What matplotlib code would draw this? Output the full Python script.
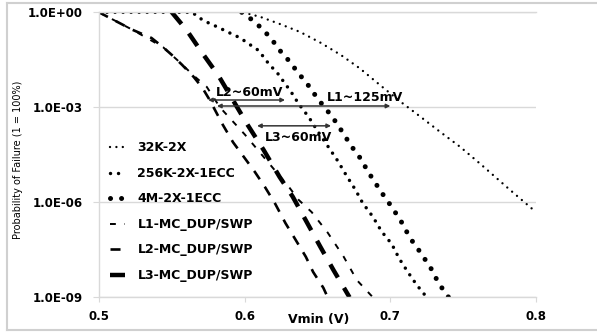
import matplotlib
matplotlib.use('Agg')
import matplotlib.pyplot as plt
from matplotlib.lines import Line2D
from matplotlib.ticker import FixedLocator, FuncFormatter, NullLocator

# values (Vmin in V, probability of failure)
v_32k = [0.599, 0.611, 0.624, 0.638, 0.652, 0.666, 0.679, 0.693, 0.707, 0.721,
         0.734, 0.748, 0.762, 0.782, 0.800]
p_32k = [1.0, 0.71, 0.43, 0.24, 0.11, 4.5e-2, 1.7e-2, 5.0e-3, 1.5e-3, 4.9e-4,
         1.7e-4, 5.6e-5, 1.6e-5, 2.5e-6, 4.9e-7]

v_256k = [0.500, 0.564, 0.569, 0.574, 0.581, 0.590, 0.597, 0.602, 0.609, 0.613,
          0.617, 0.622, 0.626, 0.632, 0.637, 0.644, 0.650, 0.657, 0.664, 0.670,
          0.676, 0.681, 0.688, 0.694, 0.701, 0.706, 0.712, 0.718, 0.725]
p_256k = [1.0, 1.0, 0.66, 0.49, 0.35, 0.22, 0.155, 0.107, 6.5e-2, 3.9e-2,
          2.2e-2, 1.3e-2, 7.2e-3, 3.0e-3, 1.3e-3, 4.9e-4, 1.8e-4, 6.0e-5, 2.0e-5, 6.8e-6,
          2.5e-6, 9.5e-7, 3.5e-7, 1.2e-7, 4.8e-8, 1.7e-8, 6.3e-9, 2.5e-9, 1.0e-9]

v_4m = [0.598, 0.606, 0.612, 0.617, 0.622, 0.626, 0.632, 0.636, 0.641, 0.645,
        0.650, 0.659, 0.664, 0.668, 0.672, 0.676, 0.681, 0.684, 0.688, 0.692,
        0.696, 0.701, 0.705, 0.709, 0.712, 0.716, 0.721, 0.725, 0.729, 0.732,
        0.736, 0.740]
p_4m = [1.0, 0.54, 0.30, 0.17, 8.7e-2, 4.8e-2, 2.5e-2, 1.3e-2, 7.2e-3, 4.1e-3,
        1.9e-3, 5.8e-4, 2.8e-4, 1.4e-4, 7.4e-5, 3.9e-5, 2.0e-5, 1.0e-5, 5.5e-6, 2.8e-6,
        1.5e-6, 7.1e-7, 3.7e-7, 1.9e-7, 1.0e-7, 5.1e-8, 2.5e-8, 1.3e-8, 6.8e-9, 3.5e-9,
        1.8e-9, 1.0e-9]

v_l1 = [0.500, 0.523, 0.544, 0.556, 0.565, 0.574, 0.583, 0.600, 0.631, 0.637,
        0.646, 0.657, 0.668, 0.677, 0.688]
p_l1 = [1.0, 0.28, 7.9e-2, 2.5e-2, 1.0e-2, 4.4e-3, 1.0e-3, 1.4e-4, 2.8e-6, 1.2e-6,
        4.9e-7, 1.1e-7, 1.9e-8, 3.5e-9, 1.0e-9]

v_l2 = [0.500, 0.523, 0.536, 0.544, 0.550, 0.557, 0.565, 0.571, 0.576, 0.585,
        0.592, 0.600, 0.607, 0.614, 0.621, 0.628, 0.635, 0.642, 0.647, 0.654, 0.657]
p_l2 = [1.0, 0.28, 0.155, 7.9e-2, 4.5e-2, 2.2e-2, 9.1e-3, 4.1e-3, 1.7e-3, 2.8e-4,
        7.9e-5, 2.5e-5, 9.1e-6, 3.0e-6, 8.9e-7, 2.2e-7, 6.5e-8, 1.9e-8, 6.3e-9, 2.0e-9, 1.0e-9]

v_l3 = [0.550, 0.560, 0.571, 0.582, 0.602, 0.613, 0.624, 0.633, 0.643, 0.652,
        0.661, 0.672]
p_l3 = [1.0, 0.28, 5.1e-2, 1.0e-2, 2.8e-4, 4.5e-5, 6.3e-6, 1.5e-6, 2.2e-7, 3.9e-8,
        7.2e-9, 1.0e-9]

labels = ['32K-2X', '256K-2X-1ECC', '4M-2X-1ECC',
          'L1-MC_DUP/SWP', 'L2-MC_DUP/SWP', 'L3-MC_DUP/SWP']
y_ticks = [1e0, 1e-3, 1e-6, 1e-9]
x_ticks = [0.5, 0.6, 0.7, 0.8]

grey = '#d9d9d9'

fig = plt.figure(figsize=(5.97, 3.33), dpi=100)
ax = fig.add_axes([99 / 597, 1 - 297.3 / 333, 437 / 597, 285 / 333])

series = [
    (v_32k, p_32k, dict(lw=1.7, linestyle=(0, (0.01, 2.7)), dash_capstyle='round')),
    (v_256k, p_256k, dict(lw=2.5, linestyle=(0, (0.01, 2.3)), dash_capstyle='round')),
    (v_4m, p_4m, dict(lw=3.6, linestyle=(0, (0.01, 2.2)), dash_capstyle='round')),
    (v_l1, p_l1, dict(lw=1.4, linestyle=(0, (3, 4.5)), dash_capstyle='butt')),
    (v_l2, p_l2, dict(lw=1.9, linestyle=(0, (3.8, 3.4)), dash_capstyle='butt')),
    (v_l3, p_l3, dict(lw=3.2, linestyle=(0, (3.4, 2.7)), dash_capstyle='butt')),
]
for (v, p, style), lab in zip(series, labels):
    ax.plot(v, p, color='black', label=lab, **style)

ax.set_yscale('log')
ax.set_xlim(0.5, 0.8)
ax.set_ylim(1e-9, 1e0)
ax.yaxis.set_major_locator(FixedLocator(y_ticks))
ax.yaxis.set_minor_locator(NullLocator())
ax.yaxis.set_major_formatter(FuncFormatter(lambda v, pos: f'{v:.1E}'))
ax.xaxis.set_major_locator(FixedLocator(x_ticks))
ax.xaxis.set_major_formatter(FuncFormatter(lambda v, pos: f'{v:.1f}'))
ax.grid(axis='y', color=grey, lw=1)
ax.set_axisbelow(True)
for s in ['top', 'left', 'bottom']:
    ax.spines[s].set_color(grey)
    ax.spines[s].set_linewidth(1)
ax.spines['right'].set_visible(False)
ax.tick_params(axis='y', length=4.5, color=grey, pad=7, labelsize=8.5)
ax.tick_params(axis='x', length=3.6, color=grey, pad=5.5, labelsize=8.5)
for t in ax.get_xticklabels() + ax.get_yticklabels():
    t.set_fontweight('bold')

# arrows and notes
arrow = dict(arrowstyle='<|-|>', color='#333333', lw=1.1, mutation_scale=6,
             shrinkA=0, shrinkB=0)
ax.annotate('', xy=(0.5749, 1.7e-3), xytext=(0.6277, 1.7e-3), arrowprops=arrow)
ax.annotate('', xy=(0.581, 1.1e-3), xytext=(0.700, 1.1e-3), arrowprops=arrow)
ax.annotate('', xy=(0.6085, 2.6e-4), xytext=(0.6593, 2.6e-4), arrowprops=arrow)
ax.text(0.6037, 3.0e-3, 'L2~60mV', fontsize=9, fontweight='bold', ha='center', va='center')
ax.text(0.6827, 2.1e-3, 'L1~125mV', fontsize=9, fontweight='bold', ha='center', va='center')
ax.text(0.6367, 1.15e-4, 'L3~60mV', fontsize=9, fontweight='bold', ha='center', va='center')

leg = ax.legend(loc='upper left', bbox_to_anchor=(0.025, 0.547), frameon=False,
                borderpad=0, borderaxespad=0, handlelength=1.2, handletextpad=1.0,
                labelspacing=1.0, prop=dict(size=9, weight='bold'))

fig.text(18 / 597, 1 - 160 / 333, 'Probability of Failure (1 = 100%)', rotation=90,
         fontsize=7, ha='center', va='center')
fig.text(319 / 597, 1 - 319 / 333, 'Vmin (V)', fontsize=9, fontweight='bold',
         ha='center', va='center')

# light frame around the chart area
frame = dict(color='#d0d0d0', lw=1.5, transform=fig.transFigure)
fig.add_artist(Line2D([7 / 597, 1], [1 - 3 / 333, 1 - 3 / 333], **frame))
fig.add_artist(Line2D([7 / 597, 1], [3 / 333, 3 / 333], **frame))
fig.add_artist(Line2D([7 / 597, 7 / 597], [3 / 333, 1 - 3 / 333], **frame))

fig.savefig('out.png', dpi=100)
